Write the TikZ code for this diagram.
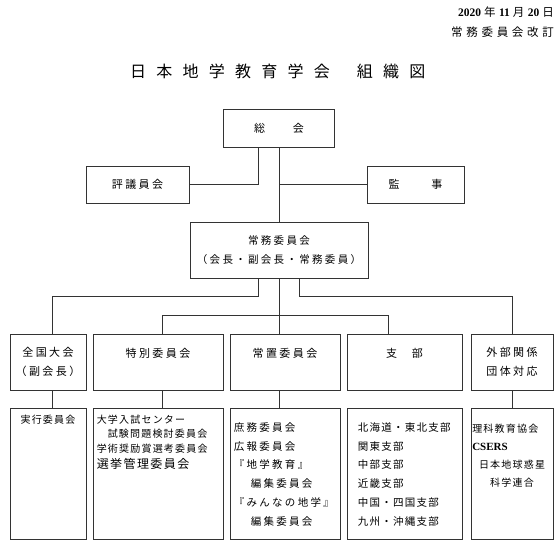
\documentclass[tikz,border=0pt]{standalone}
\usepackage{fontspec}
\setmainfont{Liberation Serif}
\newfontfamily\jp[LetterSpace=22]{Noto Sans CJK JP}
\newfontfamily\jpn[LetterSpace=12]{Noto Sans CJK JP}
\newfontfamily\jpd[LetterSpace=32]{Noto Sans CJK JP}
\newfontfamily\jpt[LetterSpace=64]{Noto Sans CJK JP}
\usetikzlibrary{positioning,calc}

\begin{document}
\begin{tikzpicture}[x=1pt,y=-1pt,
  box/.style ={rectangle,draw=black!80,line width=0.9pt,inner sep=0pt,
               align=center,font=\jp\fontsize{11}{19}\selectfont},
  upbox/.style={box,minimum width=#1,minimum height=56},
  lowbox/.style={box,minimum width=#1,minimum height=131},
  lst/.style ={inner sep=0pt,align=left,font=\jp\fontsize{10.5}{18.7}\selectfont},
  ln/.style  ={draw=black!80,line width=0.9pt}
]
\useasboundingbox (0,0) rectangle (560,551);

\node[anchor=north east,align=right,inner sep=0pt,font=\fontsize{11.5}{20}\selectfont] (date) at (554,6.5)
  {\textbf{2020}\hspace{3pt}{\jpn 年}\hspace{2pt}\textbf{11}\hspace{3pt}{\jpn 月}\hspace{2pt}\textbf{20}\hspace{3pt}{\jpn 日}\\{\jpd 常務委員会改訂}};
\node[anchor=west,inner sep=0pt,font=\jpt\fontsize{16}{16}\selectfont] (ttl) at (130,71)
  {日本地学教育学会\hspace{27pt}組織図};

\node[box,minimum width=111,minimum height=38](gen) at (279,128){総\hspace{27.6pt}会};
\node[box,minimum width=103,minimum height=37](cou) at (137.5,184.5){評議員会};
\node[box,minimum width=97,minimum height=37](aud) at (415.5,184.5){監\hspace{31.6pt}事};
\node[box,minimum width=178,minimum height=56,font=\jp\fontsize{10.5}{18.5}\selectfont](exe) at (279,250)
  {常務委員会\\（会長・副会長・常務委員）};

\node[upbox=76](r1) at (48,362){全国大会\\（副会長）};
\node[upbox=130](r2) at (158,362){特別委員会\\\mbox{}};
\node[upbox=110](r3) at (285,362){常置委員会\\\mbox{}};
\node[upbox=115](r4) at (404.5,362){支\hspace{15pt}部\\\mbox{}};
\node[upbox=82](r5) at (512,362){外部関係\\団体対応};

\node[lowbox=76](d1) at (48,473.5){};
\node[lowbox=130](d2) at (158,473.5){};
\node[lowbox=110](d3) at (285,473.5){};
\node[lowbox=115](d4) at (404.5,473.5){};
\node[lowbox=82](d5) at (512,473.5){};

\node[lst,font=\jpn\fontsize{10}{15}\selectfont,below=7pt of d1.north](t1){実行委員会};
\node[lst,font=\jpn\fontsize{10}{14.5}\selectfont,below right=7pt and 4pt of d2.north west](t2)
  {大学入試センター\\\hspace{11pt}試験問題検討委員会\\学術奨励賞選考委員会\\[2pt]{\fontsize{12}{12}\selectfont 選挙管理委員会}};
\node[lst,below right=15pt and 4pt of d3.north west](t3)
  {庶務委員会\\広報委員会\\『地学教育』\\\hspace{17pt}編集委員会\\『みんなの地学』\\\hspace{17pt}編集委員会};
\node[lst,font=\jpn\fontsize{10.5}{18.7}\selectfont,below right=15pt and 11pt of d4.north west](t4)
  {北海道・東北支部\\関東支部\\中部支部\\近畿支部\\中国・四国支部\\九州・沖縄支部};
\node[lst,font=\jpn\fontsize{10}{18.4}\selectfont,below right=16pt and 1.5pt of d5.north west](t5)
  {理科教育協会\\{\normalfont\bfseries\fontsize{11}{11}\selectfont CSERS}};
\node[lst,align=center,font=\jpn\fontsize{10}{18.4}\selectfont,below=52pt of d5.north](t6)
  {日本地球惑星\\科学連合};

\coordinate (j1) at (gen.south |- aud.west);
\coordinate (j2) at ($(exe.south)+(0,37)$);
\draw[ln] ([xshift=-21pt]gen.south) |- (cou.east);
\draw[ln] (gen) -- (exe);
\draw[ln] (j1) -- (aud.west);
\draw[ln] ([xshift=-21pt]exe.south) -- ++(0,18) -| ([xshift=4pt]r1.north);
\draw[ln] (exe.south) -- (exe.south |- r3.north);
\draw[ln] (j2) -| ([xshift=4pt]r2.north);
\draw[ln] (j2) -| ([xshift=-16.5pt]r4.north);
\draw[ln] ([xshift=20pt]exe.south) -- ++(0,18) -| (r5.north);
\draw[ln] ([xshift=4pt]r1.south) -- ([xshift=4pt]d1.north);
\draw[ln] ([xshift=4pt]r2.south) -- ([xshift=4pt]d2.north);
\draw[ln] (r3.south -| exe.south) -- (d3.north -| exe.south);
\draw[ln] (r5) -- (d5);
\end{tikzpicture}
\end{document}
